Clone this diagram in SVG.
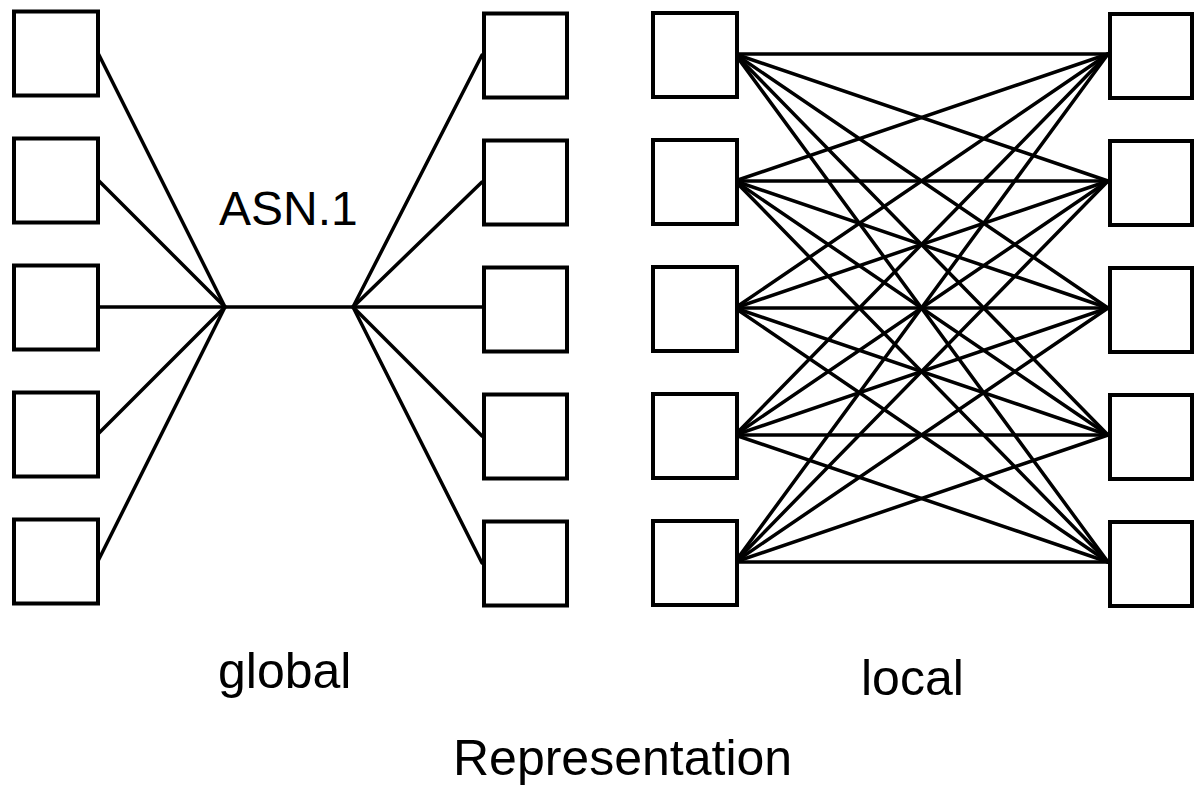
<svg xmlns="http://www.w3.org/2000/svg" width="1194" height="787" viewBox="0 0 1194 787">
<style>
.box{fill:#fff;stroke:#000;stroke-width:4}
.ln{stroke:#000;stroke-width:3.5;fill:none;stroke-linecap:round}
.t{font-family:"Liberation Sans",Arial,sans-serif;font-size:50px;fill:#000}
</style>
<rect width="1194" height="787" fill="#fff"/>
<g id="connectors">
<line class="ln" x1="98" y1="53" x2="225" y2="307"/>
<line class="ln" x1="98" y1="180" x2="225" y2="307"/>
<line class="ln" x1="98" y1="307" x2="482" y2="307"/>
<line class="ln" x1="98" y1="434" x2="225" y2="307"/>
<line class="ln" x1="98" y1="561" x2="225" y2="307"/>
<line class="ln" x1="482" y1="55" x2="353" y2="307"/>
<line class="ln" x1="482" y1="182" x2="353" y2="307"/>
<line class="ln" x1="482" y1="436" x2="353" y2="307"/>
<line class="ln" x1="482" y1="563" x2="353" y2="307"/>
<g id="local-lines">
<line class="ln" x1="735" y1="54" x2="1108" y2="54"/>
<line class="ln" x1="735" y1="54" x2="1108" y2="181"/>
<line class="ln" x1="735" y1="54" x2="1108" y2="308"/>
<line class="ln" x1="735" y1="54" x2="1108" y2="435"/>
<line class="ln" x1="735" y1="54" x2="1108" y2="562"/>
<line class="ln" x1="735" y1="181" x2="1108" y2="54"/>
<line class="ln" x1="735" y1="181" x2="1108" y2="181"/>
<line class="ln" x1="735" y1="181" x2="1108" y2="308"/>
<line class="ln" x1="735" y1="181" x2="1108" y2="435"/>
<line class="ln" x1="735" y1="181" x2="1108" y2="562"/>
<line class="ln" x1="735" y1="308" x2="1108" y2="54"/>
<line class="ln" x1="735" y1="308" x2="1108" y2="181"/>
<line class="ln" x1="735" y1="308" x2="1108" y2="308"/>
<line class="ln" x1="735" y1="308" x2="1108" y2="435"/>
<line class="ln" x1="735" y1="308" x2="1108" y2="562"/>
<line class="ln" x1="735" y1="435" x2="1108" y2="54"/>
<line class="ln" x1="735" y1="435" x2="1108" y2="181"/>
<line class="ln" x1="735" y1="435" x2="1108" y2="308"/>
<line class="ln" x1="735" y1="435" x2="1108" y2="435"/>
<line class="ln" x1="735" y1="435" x2="1108" y2="562"/>
<line class="ln" x1="735" y1="562" x2="1108" y2="54"/>
<line class="ln" x1="735" y1="562" x2="1108" y2="181"/>
<line class="ln" x1="735" y1="562" x2="1108" y2="308"/>
<line class="ln" x1="735" y1="562" x2="1108" y2="435"/>
<line class="ln" x1="735" y1="562" x2="1108" y2="562"/>
</g>
</g>
<g id="global-left">
<rect id="gl1" class="box" x="14" y="11.5" width="84" height="84"/>
<rect id="gl2" class="box" x="14" y="138.5" width="84" height="84"/>
<rect id="gl3" class="box" x="14" y="265.5" width="84" height="84"/>
<rect id="gl4" class="box" x="14" y="392.5" width="84" height="84"/>
<rect id="gl5" class="box" x="14" y="519.5" width="84" height="84"/>
</g>
<g id="global-right">
<rect id="gr1" class="box" x="484" y="13.5" width="83" height="84"/>
<rect id="gr2" class="box" x="484" y="140.5" width="83" height="84"/>
<rect id="gr3" class="box" x="484" y="267.5" width="83" height="84"/>
<rect id="gr4" class="box" x="484" y="394.5" width="83" height="84"/>
<rect id="gr5" class="box" x="484" y="521.5" width="83" height="84"/>
</g>
<g id="local-left">
<rect id="ll1" class="box" x="653" y="13" width="84" height="84"/>
<rect id="ll2" class="box" x="653" y="140" width="84" height="84"/>
<rect id="ll3" class="box" x="653" y="267" width="84" height="84"/>
<rect id="ll4" class="box" x="653" y="394" width="84" height="84"/>
<rect id="ll5" class="box" x="653" y="521" width="84" height="84"/>
</g>
<g id="local-right">
<rect id="lr1" class="box" x="1110" y="14" width="82" height="84"/>
<rect id="lr2" class="box" x="1110" y="141" width="82" height="84"/>
<rect id="lr3" class="box" x="1110" y="268" width="82" height="84"/>
<rect id="lr4" class="box" x="1110" y="395" width="82" height="84"/>
<rect id="lr5" class="box" x="1110" y="522" width="82" height="84"/>
</g>
<g id="labels">
<text class="t" x="219" y="225" style="font-size:48px">ASN.1</text>
<text class="t" x="218" y="688">global</text>
<text class="t" x="861" y="695">local</text>
<text class="t" x="453" y="775">Representation</text>
</g>
</svg>
